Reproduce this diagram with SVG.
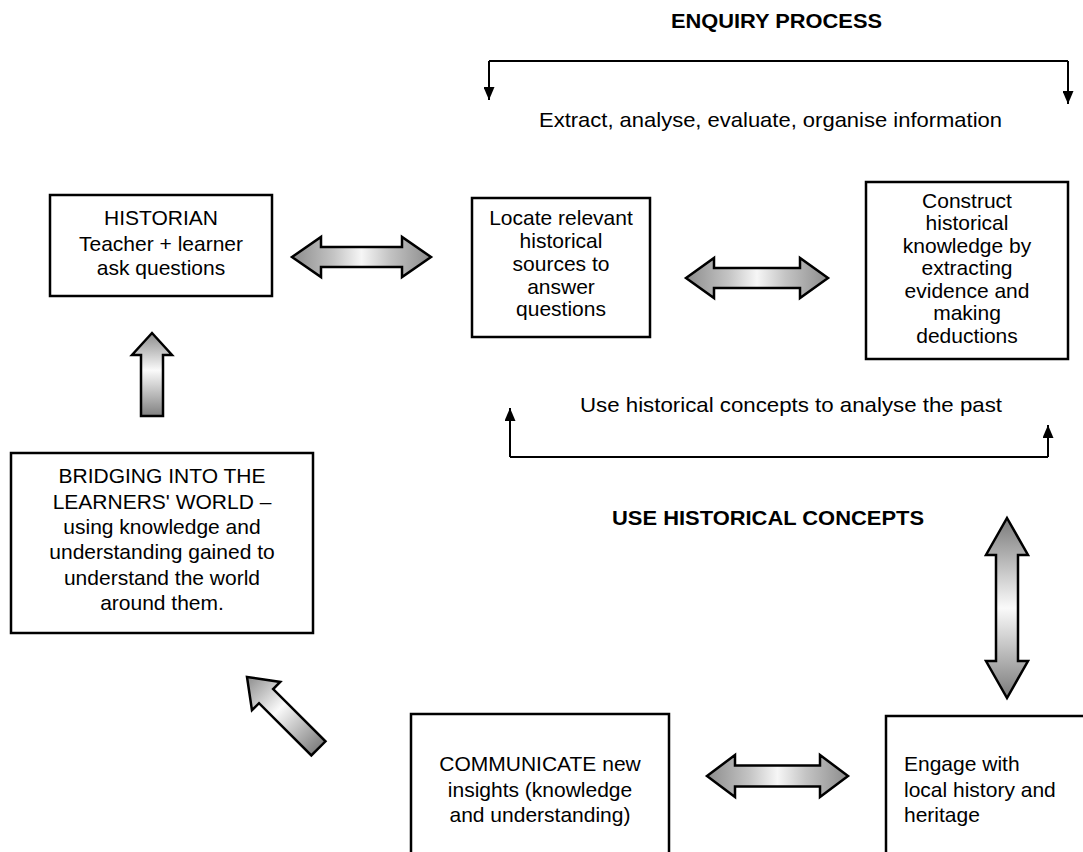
<svg xmlns="http://www.w3.org/2000/svg" width="1083" height="852" viewBox="0 0 1083 852">
<style>
  .box{fill:#fff;stroke:#000;stroke-width:2.5}
  .t{font-family:"Liberation Sans",Arial,sans-serif;font-size:21px;fill:#000}
  .c{text-anchor:middle}
  .b{font-weight:bold}
  .ln{fill:none;stroke:#000;stroke-width:2}
  .blk{stroke:#000;stroke-width:2.5;stroke-linejoin:miter}
</style>
<defs>
  <marker id="ah" markerWidth="13" markerHeight="11" refX="13" refY="5.5" orient="auto" markerUnits="userSpaceOnUse">
    <path d="M0,0 L13,5.5 L0,11 Z" fill="#000"/>
  </marker>
  <linearGradient id="gH" x1="0" y1="0" x2="1" y2="0">
    <stop offset="0" stop-color="#8c8c8c"/>
    <stop offset="0.3" stop-color="#c4c4c4"/>
    <stop offset="0.5" stop-color="#f6f6f6"/>
    <stop offset="0.7" stop-color="#c4c4c4"/>
    <stop offset="1" stop-color="#8c8c8c"/>
  </linearGradient>
  <linearGradient id="gV" x1="0" y1="0" x2="0" y2="1">
    <stop offset="0" stop-color="#7a7a7a"/>
    <stop offset="0.3" stop-color="#c8c8c8"/>
    <stop offset="0.5" stop-color="#fafafa"/>
    <stop offset="0.7" stop-color="#c8c8c8"/>
    <stop offset="1" stop-color="#7a7a7a"/>
  </linearGradient>
  <linearGradient id="gU" x1="0" y1="0" x2="0" y2="1">
    <stop offset="0" stop-color="#8c8c8c"/>
    <stop offset="0.45" stop-color="#fafafa"/>
    <stop offset="1" stop-color="#808080"/>
  </linearGradient>
</defs>

<rect width="1083" height="852" fill="#fff"/>

<g id="labels">
  <text class="t b" x="671" y="28" font-size="20" textLength="211" lengthAdjust="spacingAndGlyphs">ENQUIRY PROCESS</text>
  <text class="t" x="539" y="127" textLength="463" lengthAdjust="spacingAndGlyphs">Extract, analyse, evaluate, organise information</text>
  <text class="t" x="580" y="412" font-size="22" textLength="422" lengthAdjust="spacingAndGlyphs">Use historical concepts to analyse the past</text>
  <text class="t b" x="612" y="525" font-size="22" textLength="312" lengthAdjust="spacingAndGlyphs">USE HISTORICAL CONCEPTS</text>
</g>

<g id="connectors">
  <path class="ln" d="M489,61 L1068,61"/>
  <path class="ln" d="M489,61 L489,100" marker-end="url(#ah)"/>
  <path class="ln" d="M1068,61 L1068,104" marker-end="url(#ah)"/>
  <path class="ln" d="M510,457 L1048,457"/>
  <path class="ln" d="M510,457 L510,408" marker-end="url(#ah)"/>
  <path class="ln" d="M1048,457 L1048,425" marker-end="url(#ah)"/>
  <path class="blk" fill="url(#gH)" d="M292,257 L321,237 L321,247 L402,247 L402,237 L431,257 L402,277 L402,267 L321,267 L321,277 Z"/>
  <path class="blk" fill="url(#gH)" d="M686,278 L714,258 L714,268 L800,268 L800,258 L828,278 L800,298 L800,288 L714,288 L714,298 Z"/>
  <path class="blk" fill="url(#gH)" d="M707,776 L735,755 L735,765.5 L820,765.5 L820,755 L848,776 L820,797 L820,786.5 L735,786.5 L735,797 Z"/>
  <path class="blk" fill="url(#gV)" d="M1007,518 L1028,555 L1018,555 L1018,661 L1028,661 L1007,698 L986,661 L996,661 L996,555 L986,555 Z"/>
  <path class="blk" fill="url(#gU)" d="M152,333 L172,355 L163,355 L163,416 L141,416 L141,355 L132,355 Z"/>
  <path class="blk" fill="url(#gU)" transform="translate(247,677) rotate(-45)" d="M0,0 L20,27 L10,27 L10,101 L-10,101 L-10,27 L-20,27 Z"/>
</g>

<g id="historian">
  <rect class="box" x="50" y="195" width="222" height="101"/>
  <text class="t c" x="161" font-size="22"><tspan x="161" y="225">HISTORIAN</tspan><tspan x="161" y="251">Teacher + learner</tspan><tspan x="161" y="275">ask questions</tspan></text>
</g>

<g id="locate">
  <rect class="box" x="472" y="198" width="178" height="139"/>
  <text class="t c" font-size="20"><tspan x="561" y="225">Locate relevant</tspan><tspan x="561" y="248">historical</tspan><tspan x="561" y="271">sources to</tspan><tspan x="561" y="294">answer</tspan><tspan x="561" y="316">questions</tspan></text>
</g>

<g id="construct">
  <rect class="box" x="866" y="182" width="202" height="177"/>
  <text class="t c" font-size="20"><tspan x="967" y="208">Construct</tspan><tspan x="967" y="230">historical</tspan><tspan x="967" y="253">knowledge by</tspan><tspan x="967" y="275">extracting</tspan><tspan x="967" y="298">evidence and</tspan><tspan x="967" y="320">making</tspan><tspan x="967" y="343">deductions</tspan></text>
</g>

<g id="bridging">
  <rect class="box" x="11" y="453" width="302" height="180"/>
  <text class="t c" font-size="22"><tspan x="162" y="483">BRIDGING INTO THE</tspan><tspan x="162" y="509">LEARNERS' WORLD –</tspan><tspan x="162" y="534">using knowledge and</tspan><tspan x="162" y="559">understanding gained to</tspan><tspan x="162" y="585">understand the world</tspan><tspan x="162" y="610">around them.</tspan></text>
</g>

<g id="communicate">
  <rect class="box" x="411" y="714" width="258" height="150"/>
  <text class="t c" font-size="22"><tspan x="540" y="771">COMMUNICATE new</tspan><tspan x="540" y="797">insights (knowledge</tspan><tspan x="540" y="822">and understanding)</tspan></text>
</g>

<g id="engage">
  <rect class="box" x="886" y="716" width="215" height="150"/>
  <text class="t" font-size="22"><tspan x="904" y="771">Engage with</tspan><tspan x="904" y="797">local history and</tspan><tspan x="904" y="822">heritage</tspan></text>
</g>
</svg>
